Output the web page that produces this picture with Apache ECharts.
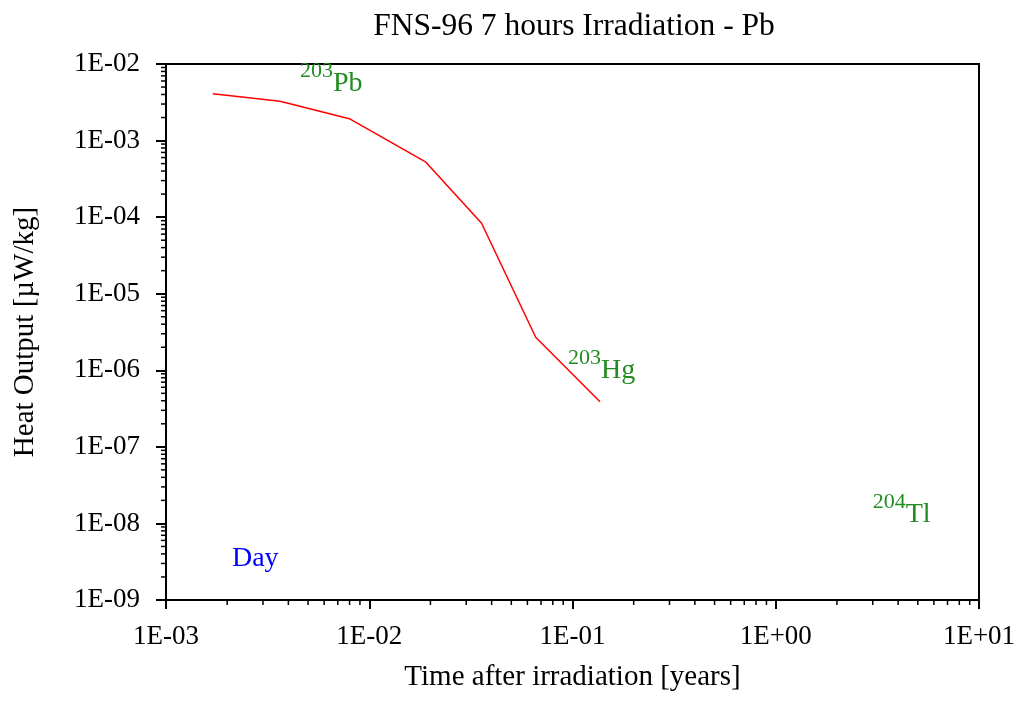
<!DOCTYPE html>
<html>
<head>
<meta charset="utf-8">
<script src="https://cdn.jsdelivr.net/npm/echarts@6/dist/echarts.min.js"></script>
<style>html,body{margin:0;padding:0;background:#fff;}#c{width:1022px;height:702px;}</style>
</head>
<body>
<div id="c"></div>
<script>
// ---- data ----
const timeYears = [1.70e-3, 3.64e-3, 7.98e-3, 1.90e-2, 3.57e-2, 6.59e-2, 0.1365];
const heatOutput = [4.09e-3, 3.26e-3, 1.93e-3, 5.22e-4, 8.31e-5, 2.70e-6, 3.89e-7];
const titleText = 'FNS-96 7 hours Irradiation - Pb';
const xName = 'Time after irradiation [years]';
const yName = 'Heat Output [\u00b5W/kg]';
// annotations: [x, y, mass number, label]
const nuclideLabels = [
  [4.56e-3, 2.78e-3, '203', 'Pb'],
  [0.0951, 4.96e-7, '203', 'Hg'],
  [3.00, 6.59e-9, '204', 'Tl']
];
const dayLabel = [[2.11e-3, 1.75e-9, 'Day']];
const xMin = 1e-3, xMax = 10, yMin = 1e-9, yMax = 1e-2;

// minor tick values (2..9 per decade)
function minorTicks(lo, hi) {
  const out = [];
  for (let e = Math.round(Math.log10(lo)); e < Math.round(Math.log10(hi)); e++) {
    for (let m = 2; m <= 9; m++) out.push(m * Math.pow(10, e));
  }
  return out;
}
const xMinor = minorTicks(xMin, xMax).map(v => [v, yMin]);
const yMinor = minorTicks(yMin, yMax).map(v => [xMin, v]);

function fmtE(v) {
  const e = Math.round(Math.log10(v));
  const s = e < 0 ? '-' : '+';
  const a = Math.abs(e);
  return '1E' + s + (a < 10 ? '0' + a : '' + a);
}

const FONT = '"Liberation Serif", "Times New Roman", serif';
const chart = echarts.init(document.getElementById('c'), null, {renderer: 'canvas'});

const richStyles = {
  s: {fontSize: 22, lineHeight: 22, verticalAlign: 'top', fontFamily: FONT, color: '#228b22', opacity: 1},
  m: {fontSize: 28, lineHeight: 46, verticalAlign: 'middle', fontFamily: FONT, color: '#228b22', opacity: 1},
  d: {fontSize: 28, lineHeight: 46, verticalAlign: 'middle', fontFamily: FONT, color: '#0000ff', opacity: 1}
};

function tickRender(dir) {
  return function (params, api) {
    const p = api.coord([api.value(0), api.value(1)]);
    const shape = dir === 'x'
      ? {x1: p[0], y1: p[1], x2: p[0], y2: p[1] + 5}
      : {x1: p[0], y1: p[1], x2: p[0] - 5, y2: p[1]};
    return {type: 'line', shape: shape, style: {stroke: '#000', lineWidth: 1.5}};
  };
}

const labelSeriesBase = {
  type: 'scatter', symbolSize: 0, silent: true, clip: false,
  itemStyle: {opacity: 1},
  emphasis: {disabled: true}
};

chart.setOption({
  animation: false,
  backgroundColor: '#fff',
  title: {
    text: titleText, left: 569, top: 6, textAlign: 'center',
    textStyle: {fontFamily: FONT, fontSize: 31.5, fontWeight: 'normal', color: '#000'}
  },
  grid: {left: 166, right: 43, top: 64, bottom: 102, show: true, borderColor: '#000', borderWidth: 2, backgroundColor: 'transparent'},
  xAxis: {
    type: 'log', logBase: 10, min: xMin, max: xMax, splitNumber: 4,
    name: xName, nameLocation: 'middle', nameGap: 63,
    nameTextStyle: {fontFamily: FONT, fontSize: 29, color: '#000'},
    axisLine: {lineStyle: {color: '#000', width: 2}},
    axisTick: {length: 9, lineStyle: {color: '#000', width: 2}},
    axisLabel: {formatter: fmtE, fontFamily: FONT, fontSize: 27, color: '#000', margin: 23, showMinLabel: true, showMaxLabel: true},
    splitLine: {show: false}
  },
  yAxis: {
    type: 'log', logBase: 10, min: yMin, max: yMax, splitNumber: 7,
    name: yName, nameLocation: 'middle', nameGap: 126, nameRotate: 90,
    nameTextStyle: {fontFamily: FONT, fontSize: 29, color: '#000'},
    axisLine: {lineStyle: {color: '#000', width: 2}},
    axisTick: {length: 10, lineStyle: {color: '#000', width: 2}},
    axisLabel: {formatter: fmtE, fontFamily: FONT, fontSize: 27, color: '#000', margin: 26, showMinLabel: true, showMaxLabel: true},
    splitLine: {show: false}
  },
  series: [
    {
      type: 'line', data: timeYears.map((t, i) => [t, heatOutput[i]]),
      showSymbol: false, symbol: 'none', lineStyle: {color: '#ff0000', width: 1.5}, silent: true
    },
    {type: 'custom', data: xMinor, renderItem: tickRender('x'), clip: false, silent: true},
    {type: 'custom', data: yMinor, renderItem: tickRender('y'), clip: false, silent: true},
    Object.assign({}, labelSeriesBase, {
      data: nuclideLabels.map(a => ({value: [a[0], a[1]], sup: a[2], el: a[3]})),
      label: {
        show: true, position: [0, 0], align: 'left', verticalAlign: 'bottom', padding: 0, opacity: 1,
        formatter: p => '{s|' + p.data.sup + '}{m|' + p.data.el + '}',
        rich: richStyles
      }
    }),
    Object.assign({}, labelSeriesBase, {
      data: dayLabel.map(a => ({value: [a[0], a[1]], txt: a[2]})),
      label: {
        show: true, position: [0, 0], align: 'left', verticalAlign: 'bottom', padding: 0, opacity: 1,
        formatter: p => '{d|' + p.data.txt + '}',
        rich: richStyles
      }
    })
  ]
});
</script>
</body>
</html>
